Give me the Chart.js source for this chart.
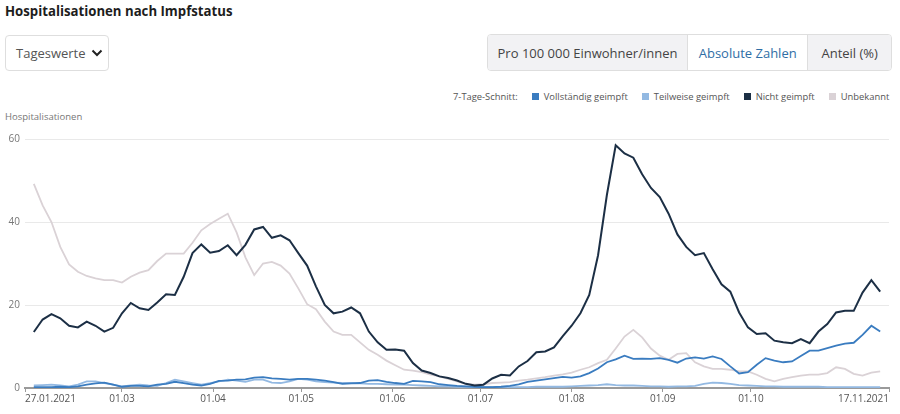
<!DOCTYPE html>
<html lang="de">
<head>
<meta charset="utf-8">
<title>Hospitalisationen nach Impfstatus</title>
<script src="https://cdn.jsdelivr.net/npm/chart.js@4.4.1/dist/chart.umd.min.js"></script>
<style>
  html, body { margin: 0; padding: 0; background: #fff; }
  body { width: 900px; height: 414px; position: relative; overflow: hidden; font-family: "Open Sans", "Noto Sans", sans-serif; color: #333; }
  .titel { position: absolute; left: 5px; top: 1px; font-size: 14.5px; font-weight: 700; color: #1d1d1d; transform: scaleX(0.91); transform-origin: left center; white-space: nowrap; }
  .auswahl { position: absolute; left: 5px; top: 35px; width: 102px; height: 34px; border: 1px solid #dedede; border-radius: 4px; box-sizing: content-box; }
  .auswahl span { position: absolute; left: 10px; top: 8px; font-size: 13px; color: #555; }
  .auswahl svg { position: absolute; left: 85px; top: 12px; }
  .gruppe { position: absolute; left: 487px; top: 34px; width: 403px; height: 35px; border: 1px solid #dedede; border-radius: 4px; display: flex; overflow: hidden; }
  .gruppe div { font-size: 13px; color: #444; background: #f2f2f4; display: flex; align-items: center; justify-content: center; }
  .gruppe div + div { border-left: 1px solid #dedede; }
  .gruppe .aktiv { background: #fff; color: #2f6ea5; }
  .legende { position: absolute; left: 453px; top: 90px; font-size: 9.4px; color: #555; white-space: nowrap; }
  .legende span { display: inline-block; }
  .legende i { display: inline-block; width: 7px; height: 7px; margin: 0 5px 0 14px; vertical-align: 0px; }
  .yachse { position: absolute; left: 5px; top: 110px; font-size: 9.5px; color: #777; }
  #chart { position: absolute; left: 0; top: 125px; }
</style>
</head>
<body>
<div class="titel">Hospitalisationen nach Impfstatus</div>
<div class="auswahl"><span>Tageswerte</span>
  <svg width="12" height="10" viewBox="0 0 12 10"><polyline points="1.5,2.5 6,7 10.5,2.5" fill="none" stroke="#222" stroke-width="2"/></svg>
</div>
<div class="gruppe">
  <div style="width:200px">Pro 100 000 Einwohner/innen</div>
  <div class="aktiv" style="width:120px">Absolute Zahlen</div>
  <div style="width:83px">Anteil (%)</div>
</div>
<div class="legende" id="legende"></div>
<div class="yachse">Hospitalisationen</div>
<canvas id="chart" width="900" height="289"></canvas>

<script>
const tage = [3, 6, 9, 12, 15, 18, 21, 24, 27, 30, 33, 36, 39, 42, 45, 48, 51, 54, 57, 60,
  63, 66, 69, 72, 75, 78, 81, 84, 87, 90, 93, 96, 99, 102, 105, 108, 111, 114, 117, 120,
  123, 126, 129, 132, 135, 138, 141, 144, 147, 150, 153, 156, 159, 162, 165, 168, 171, 174, 177, 180,
  183, 186, 189, 192, 195, 198, 201, 204, 207, 210, 213, 216, 219, 222, 225, 228, 231, 234, 237, 240,
  243, 246, 249, 252, 255, 258, 261, 264, 267, 270, 273, 276, 279, 282, 285, 288, 291];

const nichtGeimpft = [13.5, 16.5, 17.8, 16.8, 15.0, 14.6, 16.0, 15.0, 13.6, 14.5,
  18.0, 20.5, 19.2, 18.8, 20.6, 22.6, 22.4, 26.8, 32.5, 34.6,
  32.6, 33.0, 34.4, 32.0, 34.5, 38.2, 38.8, 36.2, 36.8, 35.6,
  32.5, 29.5, 24.5, 20.0, 18.0, 18.4, 19.4, 18.0, 13.6, 11.0,
  9.2, 9.3, 9.0, 6.0, 4.2, 3.6, 2.8, 2.4, 1.8, 1.0,
  0.6, 0.8, 2.3, 3.2, 3.0, 5.2, 6.5, 8.6, 8.8, 9.8,
  12.5, 15.0, 18.0, 22.4, 32.0, 46.5, 58.5, 56.5, 55.5, 51.5,
  48.2, 46.0, 42.0, 37.0, 34.0, 32.0, 32.5, 28.6, 25.0, 23.2,
  18.2, 14.6, 13.0, 13.2, 11.4, 11.0, 10.8, 11.8, 10.8, 13.6,
  15.4, 18.2, 18.6, 18.6, 23.0, 26.0, 23.2];

const vollstaendig = [0.2, 0.2, 0.2, 0.3, 0.2, 0.4, 0.8, 1.1, 1.3, 0.8,
  0.3, 0.5, 0.5, 0.4, 0.8, 1.0, 1.5, 1.2, 0.8, 0.6,
  1.0, 1.7, 1.8, 2.0, 2.1, 2.5, 2.6, 2.3, 2.2, 2.0,
  2.2, 2.2, 2.0, 1.8, 1.4, 1.0, 1.1, 1.2, 1.8, 1.9,
  1.5, 1.2, 1.0, 1.7, 1.6, 1.4, 0.9, 0.7, 0.5, 0.4,
  0.3, 0.2, 0.2, 0.3, 0.5, 0.9, 1.5, 1.8, 2.1, 2.4,
  2.7, 2.5, 2.8, 3.6, 4.7, 6.2, 6.9, 7.8, 7.0, 7.1,
  7.0, 7.2, 6.8, 6.1, 7.1, 7.4, 7.1, 7.6, 7.0, 5.2,
  3.5, 3.8, 5.6, 7.2, 6.6, 6.2, 6.4, 7.7, 9.0, 9.0,
  9.6, 10.2, 10.7, 10.9, 12.8, 15.0, 13.6];

const teilweise = [0.6, 0.7, 0.8, 0.6, 0.4, 0.8, 1.6, 1.6, 1.2, 0.8,
  0.4, 0.6, 0.8, 0.6, 0.5, 1.2, 2.0, 1.6, 1.2, 0.8,
  1.2, 1.6, 2.0, 1.8, 1.5, 2.0, 2.0, 1.3, 1.2, 1.6,
  2.2, 2.0, 1.6, 1.4, 1.3, 1.2, 1.2, 1.1, 1.0, 1.0,
  0.9, 0.8, 0.8, 0.7, 0.6, 0.5, 0.4, 0.4, 0.3, 0.3,
  0.2, 0.2, 0.2, 0.2, 0.2, 0.2, 0.2, 0.3, 0.3, 0.3,
  0.3, 0.4, 0.5, 0.6, 0.7, 0.9, 0.7, 0.6, 0.6, 0.5,
  0.4, 0.4, 0.3, 0.4, 0.4, 0.5, 1.0, 1.3, 1.2, 1.0,
  0.7, 0.6, 0.5, 0.4, 0.4, 0.3, 0.3, 0.3, 0.3, 0.3,
  0.2, 0.2, 0.2, 0.2, 0.2, 0.2, 0.2];

const unbekannt = [49.2, 44.0, 40.0, 34.0, 29.8, 28.0, 27.0, 26.4, 26.0, 26.0,
  25.4, 26.8, 27.8, 28.4, 30.6, 32.4, 32.4, 32.4, 35.0, 38.0,
  39.5, 40.8, 42.0, 37.5, 31.5, 27.2, 30.0, 30.4, 29.5, 27.6,
  24.0, 20.2, 19.0, 16.0, 13.6, 12.8, 12.8, 11.0, 9.2, 8.0,
  6.6, 5.5, 4.4, 4.2, 3.8, 3.2, 2.8, 2.2, 1.6, 1.0,
  0.8, 0.9, 1.2, 1.3, 1.4, 1.8, 2.0, 2.3, 2.6, 3.0,
  3.3, 3.7, 4.4, 5.0, 6.0, 6.8, 9.5, 12.4, 14.0, 12.2,
  9.5, 7.8, 6.8, 8.2, 8.4, 6.2, 5.2, 4.6, 4.6, 4.4,
  4.0, 4.0, 3.2, 2.2, 1.6, 2.2, 2.6, 3.0, 3.2, 3.2,
  3.6, 5.0, 4.6, 3.4, 3.0, 3.7, 4.0];

// x-Achse: Tage seit 27.01.2021 und Beschriftung
const tickTage = [0, 33, 64, 94, 125, 155, 186, 217, 247, 294];
const tickLabels = ['27.01.2021', '01.03', '01.04', '01.05', '01.06', '01.07', '01.08', '01.09', '01.10', '17.11.2021'];
const yTicks = [0, 20, 40, 60];

const serien = [
  { label: 'Vollständig geimpft', werte: vollstaendig, farbe: '#3a7cc0', order: 1 },
  { label: 'Teilweise geimpft', werte: teilweise, farbe: '#93b9e2', order: 2 },
  { label: 'Nicht geimpft', werte: nichtGeimpft, farbe: '#1c2f45', order: 0 },
  { label: 'Unbekannt', werte: unbekannt, farbe: '#dad2d6', order: 3 }
];

// Legende
const legende = document.getElementById('legende');
legende.innerHTML = '<span>7-Tage-Schnitt:</span>' + serien.map(s =>
  '<span><i style="background:' + s.farbe + '"></i>' + s.label + '</span>').join('');

const datasets = serien.map(s => ({
  label: s.label,
  data: s.werte.map((v, i) => ({ x: tage[i], y: v })),
  borderColor: s.farbe,
  backgroundColor: s.farbe,
  borderWidth: s.order === 0 ? 2 : 1.8,
  pointRadius: 0,
  tension: 0,
  order: s.order
}));

new Chart(document.getElementById('chart'), {
  type: 'line',
  data: { datasets },
  options: {
    responsive: false,
    animation: false,
    devicePixelRatio: 1,
    layout: { autoPadding: false, padding: { top: 14, right: 11, left: 0, bottom: 0 } },
    plugins: { legend: { display: false }, tooltip: { enabled: false } },
    scales: {
      x: {
        type: 'linear',
        min: 0,
        max: 294,
        afterBuildTicks: scale => { scale.ticks = tickTage.map(v => ({ value: v })); },
        afterFit: scale => { scale.height = 26; },
        ticks: {
          autoSkip: false,
          maxRotation: 0,
          align: 'inner',
          padding: 1,
          color: '#555',
          font: { family: 'Open Sans', size: 10 },
          callback: v => tickLabels[tickTage.indexOf(v)]
        },
        grid: { drawOnChartArea: false, drawTicks: true, tickLength: 4, color: '#9a9a9a' },
        border: { color: '#9a9a9a', width: 2 }
      },
      y: {
        min: 0,
        max: 60,
        afterBuildTicks: scale => { scale.ticks = yTicks.map(v => ({ value: v })); },
        afterFit: scale => { scale.width = 25; },
        ticks: { padding: 5, color: '#777', font: { family: 'Open Sans', size: 10 } },
        grid: { color: '#e9e9e9', drawTicks: false },
        border: { display: false }
      }
    }
  }
});
</script>
</body>
</html>
